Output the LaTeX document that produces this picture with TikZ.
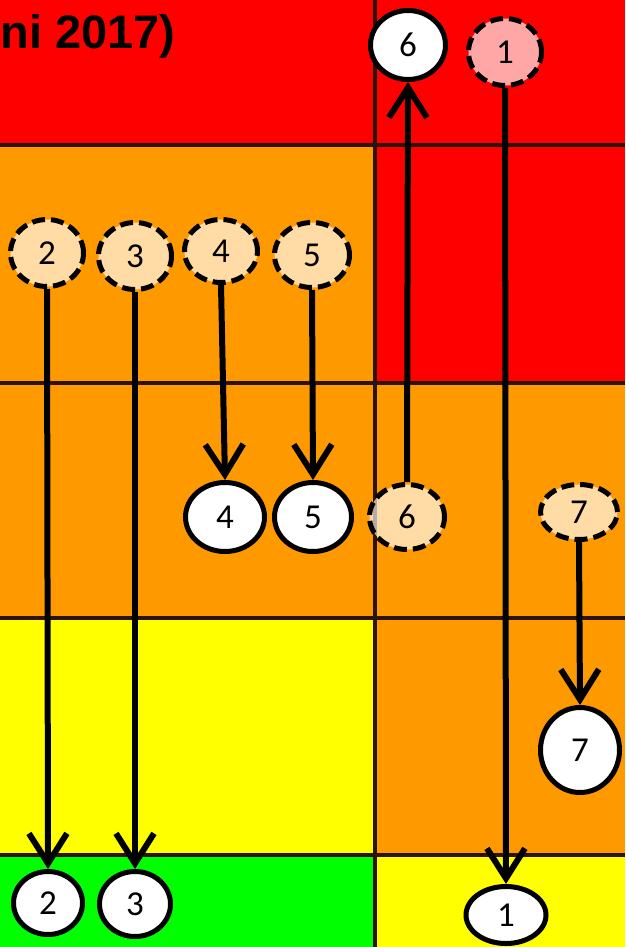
\documentclass[tikz,border=0pt]{standalone}
\usepackage{fontspec}
\setmainfont{Carlito}
\newfontfamily\titlefont{Liberation Sans}
\usetikzlibrary{shapes.geometric,arrows.meta}
\definecolor{cellred}{RGB}{255,0,0}
\definecolor{cellorange}{RGB}{255,153,0}
\definecolor{cellyellow}{RGB}{255,255,0}
\definecolor{cellgreen}{RGB}{0,255,0}
\definecolor{divider}{RGB}{45,20,10}

\begin{document}
\begin{tikzpicture}[x=1pt, y=-1pt,
  gridline/.style={divider, line width=3.5pt},
  oldpos/.style={ellipse, draw, line width=5pt, dash pattern=on 13pt off 6pt,
    fill=white, fill opacity=0.65, text opacity=1, inner sep=0pt,
    minimum width=73pt, minimum height=67pt, font=\fontsize{35}{35}\selectfont},
  newpos/.style={ellipse, draw, line width=5pt, fill=white, inner sep=0pt,
    minimum width=75pt, minimum height=69pt, font=\fontsize{35}{35}\selectfont},
  move/.style={line width=6pt, -{Straight Barb[length=30pt, width=38pt]}}]
  \useasboundingbox (0,0) rectangle (625,947);

  % risk cells, left column then right column
  \fill[cellred]    (0,0)   rectangle (375,145);
  \fill[cellorange] (0,145) rectangle (375,618);
  \fill[cellyellow] (0,618) rectangle (375,855);
  \fill[cellgreen]  (0,855) rectangle (375,947);
  \fill[cellred]    (375,0)   rectangle (625,383);
  \fill[cellorange] (375,383) rectangle (625,855);
  \fill[cellyellow] (375,855) rectangle (625,947);

  \draw[gridline] (375,0) -- (375,947);
  \foreach \y in {145,383,618,855}
    \draw[gridline] (0,\y) -- (625,\y);

  \node[anchor=base west, font=\titlefont\bfseries\fontsize{47}{47}\selectfont]
    (title) at (-3,49) {ni 2017)};

  % positions before
  \node[oldpos] (old1) at (505,52) {1};
  \node[oldpos] (old2) at (47,253) {2};
  \node[oldpos] (old3) at (135,256) {3};
  \node[oldpos, minimum height=63pt] (old4) at (221,251) {4};
  \node[oldpos, minimum width=75pt, minimum height=65pt] (old5) at (312,255) {5};
  \node[oldpos, minimum width=75pt, minimum height=65pt] (old6) at (407,517) {6};
  \node[oldpos, minimum width=77pt, minimum height=55pt] (old7) at (579,512) {7};

  % positions after
  \node[newpos, minimum width=80pt, minimum height=57pt] (new1) at (506,915) {1};
  \node[newpos, minimum width=69pt, minimum height=63pt] (new2) at (48,903) {2};
  \node[newpos, minimum width=71pt, minimum height=65pt] (new3) at (135,904) {3};
  \node[newpos, minimum width=79pt] (new4) at (225,517) {4};
  \node[newpos, minimum width=77pt] (new5) at (313,517) {5};
  \node[newpos] (new6) at (408,45) {6};
  \node[newpos, minimum width=79pt, minimum height=85pt] (new7) at (580,750) {7};

  \foreach \n in {1,...,5,7}
    \draw[move] (old\n.south) -- (new\n.north);
  \draw[move] (old6.north) -- (new6.south);
\end{tikzpicture}
\end{document}
